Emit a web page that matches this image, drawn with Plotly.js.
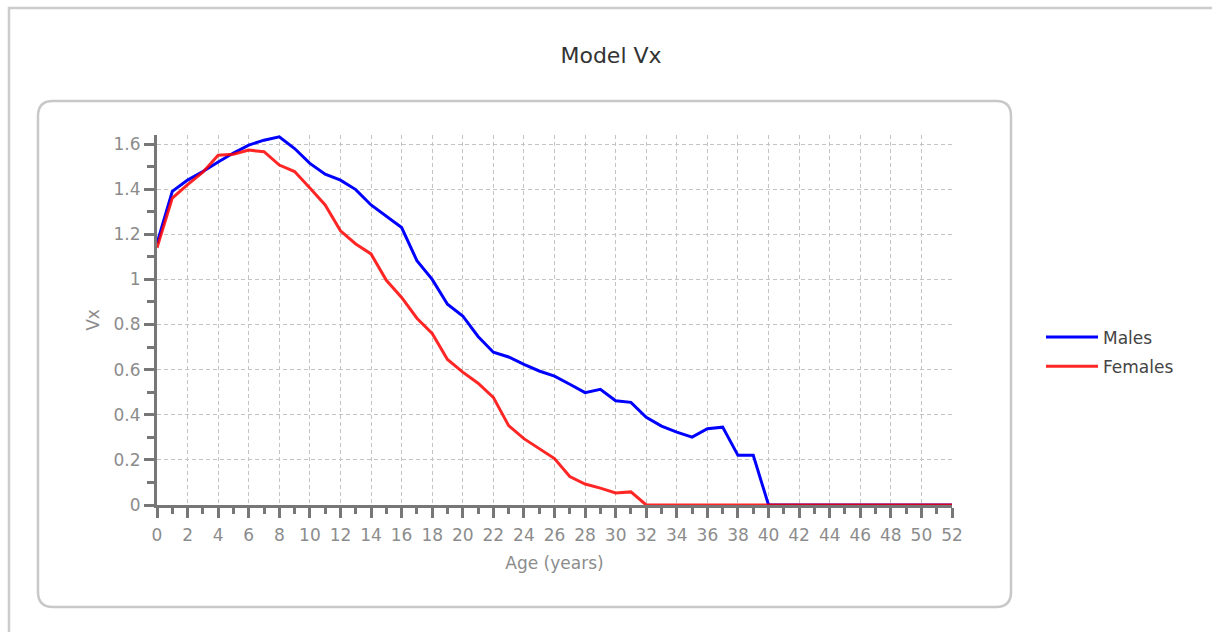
<!DOCTYPE html>
<html>
<head>
<meta charset="utf-8">
<script src="https://cdn.plot.ly/plotly-3.0.1.min.js"></script>
<style>
  html, body { margin: 0; padding: 0; background: #fff; }
  #chart { width: 1212px; height: 632px; }
</style>
</head>
<body>
<div id="chart"></div>
<script>
// ---- Data ----
const ages = [0,1,2,3,4,5,6,7,8,9,10,11,12,13,14,15,16,17,18,19,20,21,22,23,24,25,26,
              27,28,29,30,31,32,33,34,35,36,37,38,39,40,41,42,43,44,45,46,47,48,49,50,51,52];
const males = [1.16,1.39,1.44,1.478,1.52,1.56,1.595,1.617,1.632,1.58,1.514,1.466,1.44,1.398,
               1.33,1.28,1.23,1.083,1.0,0.89,0.838,0.747,0.677,0.656,0.623,0.594,0.571,0.535,
               0.498,0.513,0.462,0.455,0.389,0.35,0.323,0.301,0.338,0.345,0.22,0.22,0,
               0,0,0,0,0,0,0,0,0,0,0,0];
const females = [1.14,1.36,1.42,1.475,1.55,1.555,1.573,1.566,1.507,1.478,1.405,1.33,1.215,
                 1.157,1.113,0.996,0.92,0.828,0.76,0.645,0.589,0.54,0.477,0.352,0.294,0.25,
                 0.206,0.126,0.093,0.075,0.053,0.058,0,
                 0,0,0,0,0,0,0,0,0,0,0,0,0,0,0,0,0,0,0,0];
const seriesNames = ['Males', 'Females'];
const xTickVals = [0,2,4,6,8,10,12,14,16,18,20,22,24,26,28,30,32,34,36,38,40,42,44,46,48,50,52];

// ---- Layout geometry (pixels) ----
const W = 1212, H = 632;
const L = 157, R = 952, T = 135, B = 505;
const px = x => (x - L) / (R - L);
const py = y => (B - y) / (B - T);
function P(x, y) { return px(x).toFixed(5) + ',' + py(y).toFixed(5); }

function roundRect(x0, y0, x1, y1, r) {
  return 'M' + P(x0 + r, y0) + ' L' + P(x1 - r, y0) +
         ' Q' + P(x1, y0) + ' ' + P(x1, y0 + r) +
         ' L' + P(x1, y1 - r) +
         ' Q' + P(x1, y1) + ' ' + P(x1 - r, y1) +
         ' L' + P(x0 + r, y1) +
         ' Q' + P(x0, y1) + ' ' + P(x0, y1 - r) +
         ' L' + P(x0, y0 + r) +
         ' Q' + P(x0, y0) + ' ' + P(x0 + r, y0) + ' Z';
}

const FONT = 'DejaVu Sans, Verdana, sans-serif';
const axisGray = '#777777';
const labelGray = '#8c8c8c';
const gridGray = '#c4c4c4';

const traces = [
  { x: ages, y: males, name: seriesNames[0], type: 'scatter', mode: 'lines',
    legendgroup: 'm', line: { color: '#0000ff', width: 3 } },
  { x: ages, y: females, name: seriesNames[1], type: 'scatter', mode: 'lines',
    legendgroup: 'f', line: { color: 'rgba(255,0,0,0.85)', width: 3 } }
];

const layout = {
  width: W, height: H,
  margin: { l: L, r: W - R, t: T, b: H - B, pad: 0 },
  paper_bgcolor: '#ffffff',
  plot_bgcolor: 'rgba(0,0,0,0)',
  font: { family: FONT, color: labelGray, size: 17 },
  title: {
    text: 'Model Vx',
    font: { family: FONT, size: 22, color: '#333333' },
    xref: 'container', x: 611 / W, xanchor: 'center',
    yref: 'container', y: 1 - 55 / H, yanchor: 'middle'
  },
  xaxis: {
    range: [0, 52],
    tickmode: 'array', tickvals: xTickVals,
    ticks: 'outside', ticklen: 10, tickwidth: 3, tickcolor: axisGray,
    ticklabelstandoff: 3,
    showline: true, linecolor: axisGray, linewidth: 3,
    showgrid: true, gridcolor: gridGray, gridwidth: 1, griddash: '4px,3px',
    zeroline: false,
    tickfont: { family: FONT, size: 17, color: labelGray },
    minor: { dtick: 1, ticks: 'outside', ticklen: 6, tickwidth: 3, tickcolor: axisGray, showgrid: false },
    title: { text: 'Age (years)', font: { family: FONT, size: 17, color: labelGray }, standoff: 13 },
    automargin: false, fixedrange: true
  },
  yaxis: {
    range: [0, 1.64],
    tickmode: 'linear', tick0: 0, dtick: 0.2,
    ticks: 'outside', ticklen: 10, tickwidth: 3, tickcolor: axisGray,
    showline: true, linecolor: axisGray, linewidth: 3,
    showgrid: true, gridcolor: gridGray, gridwidth: 1, griddash: '4px,3px',
    zeroline: false,
    tickfont: { family: FONT, size: 17, color: labelGray },
    minor: { dtick: 0.1, ticks: 'outside', ticklen: 7, tickwidth: 3, tickcolor: axisGray, showgrid: false },
    title: { text: 'Vx', font: { family: FONT, size: 17, color: labelGray }, standoff: 10 },
    automargin: false, fixedrange: true
  },
  showlegend: true,
  legend: {
    x: px(1041), xanchor: 'left',
    y: py(352), yanchor: 'middle',
    font: { family: FONT, size: 17, color: '#444444' },
    bgcolor: 'rgba(0,0,0,0)', borderwidth: 0,
    tracegroupgap: 4, itemwidth: 52
  },
  shapes: [
    { type: 'path', xref: 'paper', yref: 'paper', layer: 'below',
      path: 'M' + P(9, H + 2) + ' L' + P(9, 8) + ' L' + P(W + 2, 8),
      line: { color: '#cccccc', width: 2.5 } },
    { type: 'path', xref: 'paper', yref: 'paper', layer: 'below',
      path: roundRect(38, 101, 1011, 607, 15),
      line: { color: '#c8c8c8', width: 2.5 } }
  ]
};

Plotly.newPlot('chart', traces, layout, { staticPlot: true, displayModeBar: false });
</script>
</body>
</html>
